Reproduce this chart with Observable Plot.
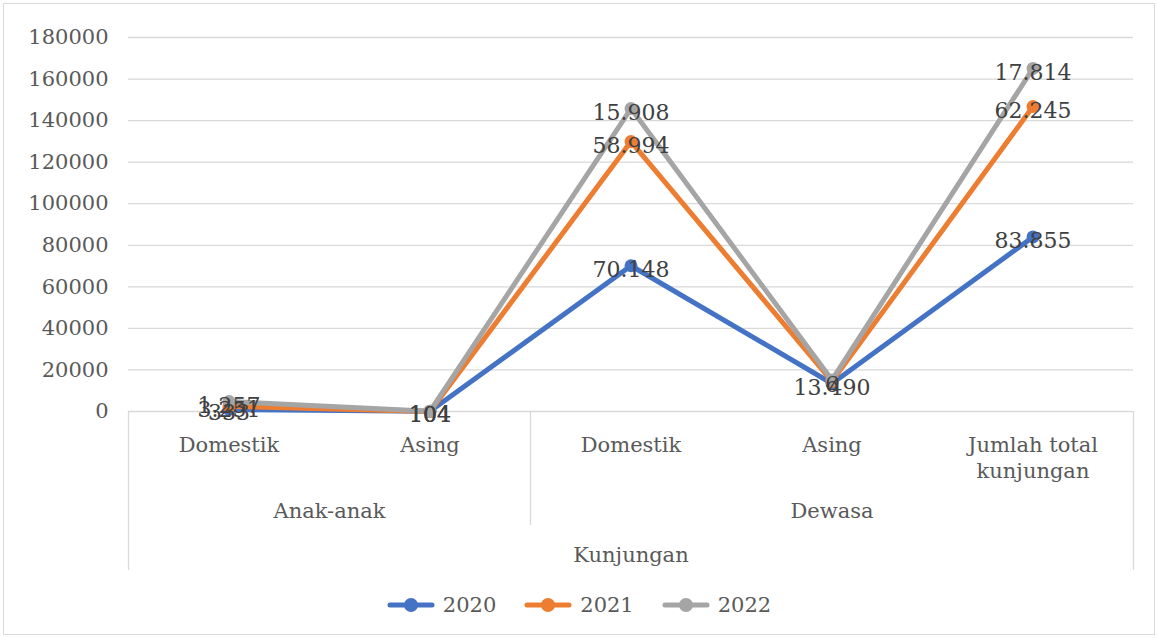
<!DOCTYPE html>
<html><head><meta charset="utf-8">
<script src="https://cdn.jsdelivr.net/npm/d3@7"></script>
<script src="https://cdn.jsdelivr.net/npm/@observablehq/plot@0.6"></script>
<style>
body{margin:0;background:#fff;}
#wrap{position:relative;width:1158px;height:638px;font-family:"DejaVu Serif",serif;overflow:hidden;}
#frame{position:absolute;left:3px;top:3px;width:1150px;height:630px;border:1px solid #d9d9d9;pointer-events:none;}
#chart{position:absolute;left:0;top:0;}
#legend{position:absolute;left:0;top:590px;width:1158px;height:30px;display:flex;justify-content:center;align-items:center;gap:28px;font-size:21px;color:#595959;}
.item{display:flex;align-items:center;gap:8px;}
</style></head>
<body>
<div id="wrap"><div id="chart"></div><div id="legend"></div><div id="frame"></div></div>
<script>
// ---- data ----
const categories = ["Domestik", "Asing", "Domestik", "Asing", "Jumlah total\nkunjungan"];
const groups = ["Anak-anak", "Anak-anak", "Dewasa", "Dewasa", "Dewasa"];
const topGroup = "Kunjungan";
const years = ["2020", "2021", "2022"];
const colors = ["#4472C4", "#ED7D31", "#A5A5A5"];
const values2020 = [1000, 100, 70148, 13490, 84000];
const values2021 = [2500, 50, 129900, 14500, 146800];
const values2022 = [4800, 150, 145800, 15200, 165100];
const labels2020 = ["333", "104", "70.148", "13.490", "83.855"];
const labels2021 = ["3.251", "104", "58.994", "6", "62.245"];
const labels2022 = ["1.257", "104", "15.908", "", "17.814"];
const yTicks = [0, 20000, 40000, 60000, 80000, 100000, 120000, 140000, 160000, 180000];

// ---- build tables ----
const seriesValues = [values2020, values2021, values2022];
const seriesLabels = [labels2020, labels2021, labels2022];
const rows = [];
years.forEach((yr, s) => categories.forEach((c, i) =>
  rows.push({year: yr, pos: i + 0.5, value: seriesValues[s][i], label: seriesLabels[s][i]})));
const catRows = categories.map((c, i) => ({pos: i + 0.5, name: c}));
const groupNames = [...new Set(groups)];
const groupRows = groupNames.map(g => ({name: g, pos: d3.mean(catRows.filter((d, i) => groups[i] === g), d => d.pos)}));
const topRows = [{name: topGroup, pos: d3.mean(catRows, d => d.pos)}];
const edges = [];
groupNames.forEach(g => { const idx = groups.map((x, i) => x === g ? i : -1).filter(i => i >= 0); edges.push(idx[0], idx[idx.length - 1] + 1); });
const outerEdges = [0, categories.length];
const innerEdges = [...new Set(edges)].filter(e => !outerEdges.includes(e));

const chart = Plot.plot({
  width: 1158, height: 590,
  marginLeft: 128, marginRight: 25, marginTop: 37, marginBottom: 179,
  x: {type: "linear", domain: [0, categories.length], axis: null},
  y: {domain: [0, 180000], ticks: yTicks, tickSize: 0, tickPadding: 20, tickFormat: d => String(d), label: null},
  color: {domain: years, range: colors},
  style: {fontFamily: "DejaVu Serif, serif", fontSize: "21px", color: "#595959", background: "transparent", overflow: "visible"},
  marks: [
    Plot.ruleY(yTicks, {stroke: "#d9d9d9", strokeWidth: 1.3}),
    Plot.ruleX(outerEdges, {x: d => d, y1: 0, y2: 0, insetBottom: -159, stroke: "#d9d9d9", strokeWidth: 1.3}),
    Plot.ruleX(innerEdges, {x: d => d, y1: 0, y2: 0, insetBottom: -114, stroke: "#d9d9d9", strokeWidth: 1.3}),
    Plot.line(rows, {x: "pos", y: "value", stroke: "year", z: "year", strokeWidth: 5, strokeLinejoin: "round"}),
    Plot.dot(rows, {x: "pos", y: "value", fill: "year", r: 6.5}),
    Plot.text(rows, {x: "pos", y: "value", text: "label", dy: 4, fontSize: 22, fill: "#404040"}),
    Plot.text(catRows, {x: "pos", y: 0, text: "name", lineAnchor: "top", dy: 22, lineHeight: 1.25, fontSize: 21, fill: "#595959"}),
    Plot.text(groupRows, {x: "pos", y: 0, text: "name", dy: 100, fontSize: 21, fill: "#595959"}),
    Plot.text(topRows, {x: "pos", y: 0, text: "name", dy: 144, fontSize: 21, fill: "#595959"})
  ]
});
document.getElementById("chart").appendChild(chart);

// ---- legend ----
const legend = document.getElementById("legend");
years.forEach((yr, s) => {
  const item = document.createElement("div");
  item.className = "item";
  item.innerHTML = `<svg width="48" height="16"><line x1="3" y1="8" x2="45" y2="8" stroke="${colors[s]}" stroke-width="5" stroke-linecap="round"/><circle cx="24" cy="8" r="7" fill="${colors[s]}"/></svg><span>${yr}</span>`;
  legend.appendChild(item);
});
</script>
</body></html>
